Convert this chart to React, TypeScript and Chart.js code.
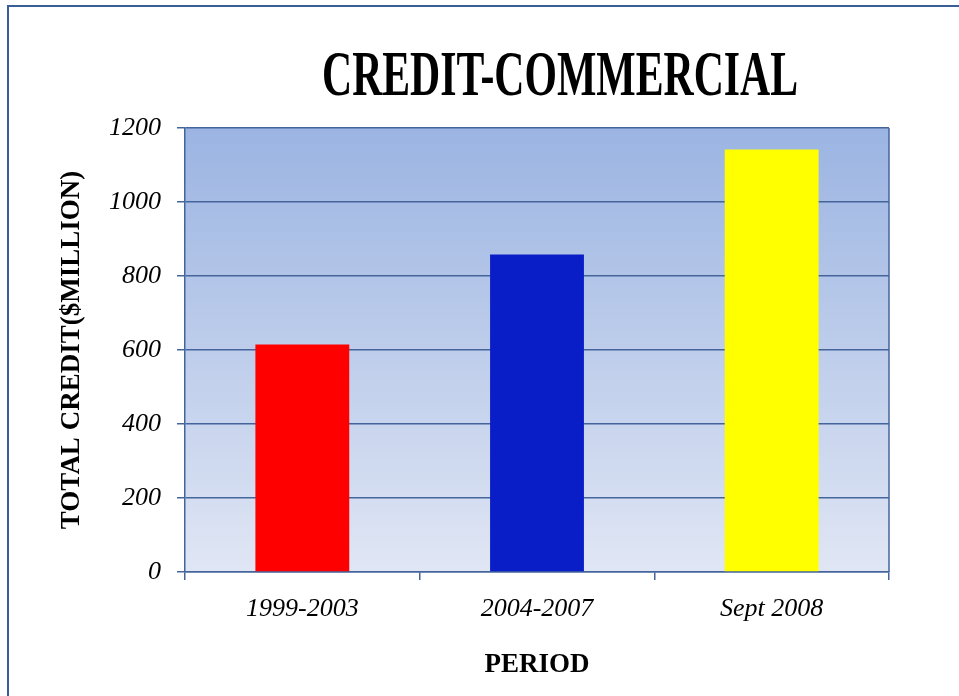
import React, { useEffect, useRef } from "react";
import { Chart, registerables } from "chart.js";

Chart.register(...registerables);

const categories = ["1999-2003", "2004-2007", "Sept 2008"];
const creditValues = [615, 858, 1142];
const barColors = ["#ff0000", "#0a1ec8", "#ffff00"];
const yTicks = [0, 200, 400, 600, 800, 1000, 1200];
const titleText = "CREDIT-COMMERCIAL";
const yTitle = "TOTAL CREDIT($MILLION)";
const xTitle = "PERIOD";

const SERIF = "'Liberation Serif', 'Times New Roman', serif";
const GRID = "#44659c";

const bgPlugin = {
  id: "plotBg",
  beforeDraw(chart: any) {
    const { ctx, chartArea } = chart;
    if (!chartArea) return;
    const g = ctx.createLinearGradient(0, chartArea.top, 0, chartArea.bottom);
    g.addColorStop(0, "#9bb4e2");
    g.addColorStop(1, "#e0e6f4");
    ctx.save();
    ctx.fillStyle = g;
    ctx.fillRect(chartArea.left, chartArea.top, chartArea.right - chartArea.left, chartArea.bottom - chartArea.top);
    ctx.restore();
  },
  afterDraw(chart: any) {
    const { ctx, chartArea } = chart;
    ctx.save();
    ctx.strokeStyle = GRID;
    ctx.lineWidth = 1.5;
    ctx.beginPath();
    ctx.moveTo(chartArea.right, chartArea.top);
    ctx.lineTo(chartArea.right, chartArea.bottom);
    ctx.stroke();
    ctx.restore();
  },
};

const titlePlugin = {
  id: "condensedTitle",
  afterDraw(chart: any) {
    const { ctx } = chart;
    ctx.save();
    ctx.font = `bold 64px ${SERIF}`;
    ctx.fillStyle = "#000";
    ctx.textAlign = "center";
    ctx.textBaseline = "alphabetic";
    const w = ctx.measureText(titleText).width;
    const sx = 476 / w;
    ctx.translate(551, 88);
    ctx.scale(sx, 1);
    ctx.fillText(titleText, 0, 0);
    ctx.restore();
  },
};

export default function App() {
  const ref = useRef<HTMLCanvasElement | null>(null);
  useEffect(() => {
    if (!ref.current) return;
    const chart = new Chart(ref.current, {
      type: "bar",
      data: {
        labels: categories,
        datasets: [
          {
            data: creditValues,
            backgroundColor: barColors,
            borderWidth: 0,
            barPercentage: 0.4,
            categoryPercentage: 1,
          },
        ],
      },
      plugins: [bgPlugin, titlePlugin],
      options: {
        animation: false,
        responsive: true,
        maintainAspectRatio: false,
        layout: { padding: { top: 121, right: 70, left: 0, bottom: 0 } },
        plugins: {
          legend: { display: false },
          title: { display: false },
          tooltip: { enabled: false },
        },
        scales: {
          x: {
            offset: true,
            afterFit(scale: any) {
              scale.height = 124;
            },
            grid: {
              offset: true,
              drawOnChartArea: false,
              drawTicks: true,
              tickLength: 8,
              color: GRID,
              lineWidth: 1.5,
            },
            border: { display: true, color: GRID, width: 1.5 },
            ticks: {
              color: "#000",
              padding: 14,
              font: { family: SERIF, size: 26, style: "italic" },
            },
            title: {
              display: true,
              text: xTitle,
              color: "#000",
              padding: { top: 0, bottom: 15 },
              font: { family: SERIF, size: 27, weight: "bold" },
            },
          },
          y: {
            min: 0,
            max: 1200,
            afterFit(scale: any) {
              scale.width = 176;
            },
            afterBuildTicks(scale: any) {
              scale.ticks = yTicks.map((v) => ({ value: v }));
            },
            grid: {
              color: GRID,
              lineWidth: 1.5,
              drawTicks: true,
              tickLength: 8,
            },
            border: { display: true, color: GRID, width: 1.5 },
            ticks: {
              color: "#000",
              padding: 16,
              callback: (v: any) => String(v),
              font: { family: SERIF, size: 26, style: "italic" },
            },
            title: {
              display: true,
              text: yTitle,
              color: "#000",
              padding: { top: 47, bottom: 0 },
              font: { family: SERIF, size: 27, weight: "bold" },
            },
          },
        },
      },
    });
    return () => chart.destroy();
  }, []);

  return (
    <div
      style={{
        position: "fixed",
        left: 7,
        top: 5,
        right: 0,
        bottom: 0,
        borderLeft: "2px solid #3a5f98",
        borderTop: "2px solid #3a5f98",
        background: "#fff",
      }}
    >
      <div style={{ position: "relative", width: 950, height: 689 }}>
        <canvas ref={ref} />
      </div>
    </div>
  );
}
